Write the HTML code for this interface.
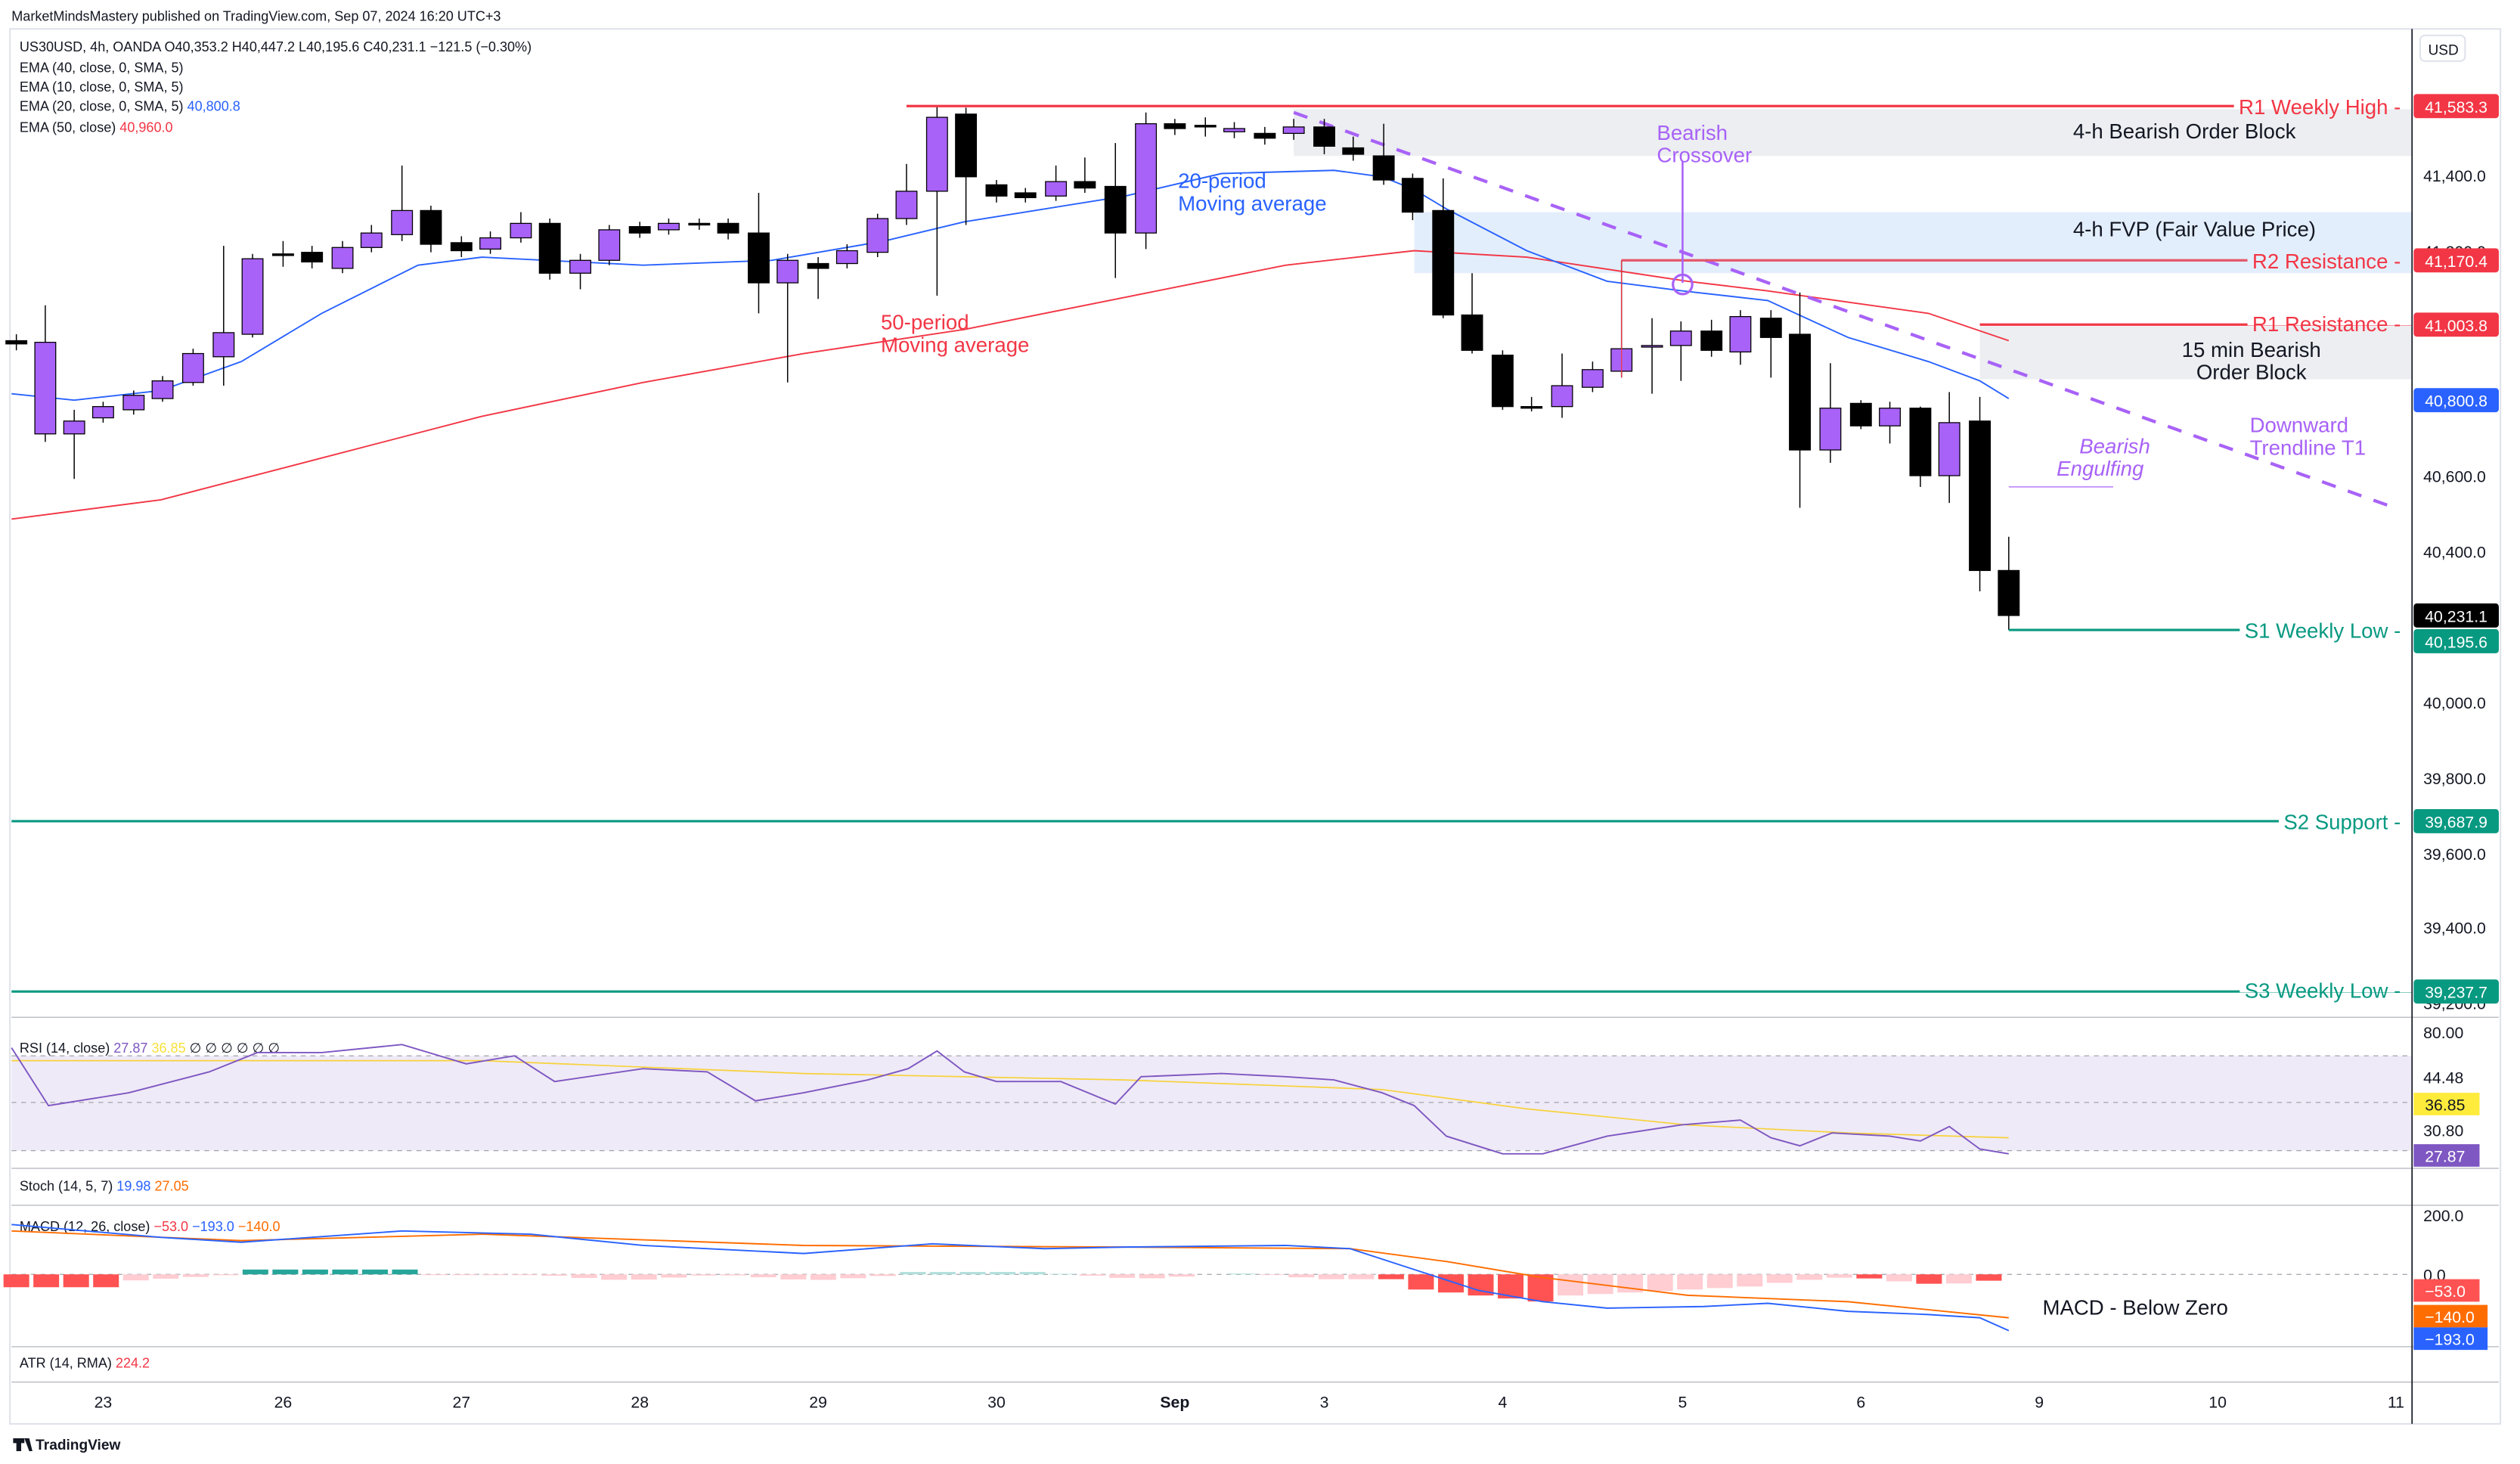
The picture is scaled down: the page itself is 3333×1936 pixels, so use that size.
<!DOCTYPE html>
<html><head><meta charset="utf-8"><style>
html,body{margin:0;padding:0;background:#fff;}
svg{display:block;font-family:"Liberation Sans",sans-serif;}
</style></head><body>
<svg id="s" width="3333" height="1936" viewBox="0 0 1568 911" xmlns="http://www.w3.org/2000/svg">
<rect width="1568" height="911" fill="#fff"/>
<text x="7" y="13" font-size="8.5" fill="#131722">MarketMindsMastery published on TradingView.com, Sep 07, 2024 16:20 UTC+3</text>
<rect x="6" y="18" width="1550" height="868" fill="none" stroke="#e0e3eb" stroke-width="1"/>
<!-- zones -->
<rect x="805" y="68" width="696" height="29" fill="#eceef1"/>
<rect x="880" y="132" width="621" height="38" fill="#e3eefc"/>
<rect x="1232" y="203" width="269" height="33" fill="#eceef1"/>
<g id="ema">
<polyline fill="none" stroke="#f23645" stroke-width="0.9" points="7,323 100,311 200,285 300,259 400,238 500,220 600,205 700,185 800,165 880,156 950,160 1050,175 1100,181 1150,188 1200,195 1250,212"/>
<polyline fill="none" stroke="#2962ff" stroke-width="0.9" points="7,245 46,249 100,243 150,225 200,195 260,165 300,160 400,165 480,162 550,150 600,138 650,130 700,122 760,108 830,106 860,110 880,118 900,130 950,156 1000,175 1047,181 1100,187 1150,210 1200,225 1232,237 1250,248"/>
</g>
<line x1="805" y1="70" x2="1493" y2="317" stroke="#a862f7" stroke-width="2" stroke-dasharray="9,8"/>
<g id="c"></g>
<!-- levels -->
<line x1="564" y1="66" x2="1501" y2="66" stroke="#f23645" stroke-width="1.5"/>
<line x1="1009" y1="162" x2="1501" y2="162" stroke="#e5566a" stroke-width="1.5"/>
<line x1="1009" y1="162" x2="1009" y2="235" stroke="#f23645" stroke-width="0.6"/>
<line x1="1232" y1="202" x2="1501" y2="202" stroke="#f23645" stroke-width="1.5"/>
<line x1="1250" y1="392" x2="1501" y2="392" stroke="#089981" stroke-width="1.5"/>
<line x1="7" y1="511" x2="1501" y2="511" stroke="#089981" stroke-width="1.5"/>
<line x1="7" y1="617" x2="1501" y2="617" stroke="#089981" stroke-width="1.5"/>
<line x1="1250" y1="303" x2="1315" y2="303" stroke="#a862f7" stroke-width="0.6"/>
<line x1="1047" y1="100" x2="1047" y2="176" stroke="#a862f7" stroke-width="1.2"/>
<circle cx="1047" cy="177" r="6" fill="none" stroke="#a862f7" stroke-width="1.5"/>
<g id="lbl" font-size="13">
<text x="1494" y="71" text-anchor="end" fill="#f23645" data-bg="#ffffff">R1 Weekly High -</text>
<text x="1494" y="167" text-anchor="end" fill="#f23645" data-bg="#e3eefc">R2 Resistance -</text>
<text x="1494" y="206" text-anchor="end" fill="#f23645" data-bg="#ffffff">R1 Resistance -</text>
<text x="1494" y="397" text-anchor="end" fill="#089981" data-bg="#ffffff">S1 Weekly Low -</text>
<text x="1494" y="516" text-anchor="end" fill="#089981" data-bg="#ffffff">S2 Support -</text>
<text x="1494" y="621" text-anchor="end" fill="#089981" data-bg="#ffffff">S3 Weekly Low -</text>
</g>
<g font-size="13">
<text x="1290" y="86" fill="#131722">4-h Bearish Order Block</text>
<text x="1290" y="147" fill="#131722">4-h FVP (Fair Value Price)</text>
<text x="1401" y="222" text-anchor="middle" fill="#131722">15 min Bearish</text>
<text x="1401" y="236" text-anchor="middle" fill="#131722">Order Block</text>
<text x="1031" y="87" fill="#a862f7">Bearish</text>
<text x="1031" y="101" fill="#a862f7">Crossover</text>
<text x="733" y="117" fill="#2962ff">20-period</text>
<text x="733" y="131" fill="#2962ff">Moving average</text>
<text x="548" y="205" fill="#f23645">50-period</text>
<text x="548" y="219" fill="#f23645">Moving average</text>
<text x="1338" y="282" text-anchor="end" font-style="italic" fill="#a862f7">Bearish</text>
<text x="1334" y="296" text-anchor="end" font-style="italic" fill="#a862f7">Engulfing</text>
<text x="1400" y="269" fill="#a862f7">Downward</text>
<text x="1400" y="283" fill="#a862f7">Trendline T1</text>
<text x="1253" y="706" fill="#131722">RSI - Oversold</text>
<text x="1271" y="818" fill="#131722">MACD - Below Zero</text>
</g>
<!-- legend -->
<g font-size="8.5" fill="#131722">
<text x="12" y="32">US30USD, 4h, OANDA  O40,353.2  H40,447.2  L40,195.6  C40,231.1  −121.5 (−0.30%)</text>
<text x="12" y="45">EMA (40, close, 0, SMA, 5)</text>
<text x="12" y="57">EMA (10, close, 0, SMA, 5)</text>
<text x="12" y="69">EMA (20, close, 0, SMA, 5) <tspan fill="#2962ff">40,800.8</tspan></text>
<text x="12" y="82">EMA (50, close) <tspan fill="#f23645">40,960.0</tspan></text>
<text x="12" y="655">RSI (14, close) <tspan fill="#7e57c2">27.87</tspan> <tspan fill="#f7e13a">36.85</tspan> ∅ ∅ ∅ ∅ ∅ ∅</text>
<text x="12" y="741">Stoch (14, 5, 7) <tspan fill="#2962ff">19.98</tspan> <tspan fill="#ff6d00">27.05</tspan></text>
<text x="12" y="766">MACD (12, 26, close) <tspan fill="#f23645">−53.0</tspan> <tspan fill="#2962ff">−193.0</tspan> <tspan fill="#ff6d00">−140.0</tspan></text>
<text x="12" y="851">ATR (14, RMA) <tspan fill="#f23645">224.2</tspan></text>
</g>
<!-- pane separators -->
<g stroke="#b2b5be" stroke-width="0.6">
<line x1="7" y1="633" x2="1555" y2="633"/>
<line x1="7" y1="727" x2="1555" y2="727"/>
<line x1="7" y1="750" x2="1555" y2="750"/>
<line x1="7" y1="838" x2="1555" y2="838"/>
<line x1="7" y1="860" x2="1555" y2="860"/>
</g>
<!-- RSI -->
<rect x="7" y="657" width="1494" height="59" fill="#efeaf7"/>
<g stroke="#a0a3ab" stroke-width="0.6" stroke-dasharray="3,3">
<line x1="7" y1="657" x2="1501" y2="657"/><line x1="7" y1="686" x2="1501" y2="686"/><line x1="7" y1="716" x2="1501" y2="716"/>
<line x1="7" y1="793" x2="1501" y2="793"/>
</g>
<polyline fill="none" stroke="#f7d23a" stroke-width="0.8" points="7,660 300,660 500,668 700,672 860,678 950,690 1050,700 1150,705 1250,708"/>
<polyline fill="none" stroke="#7e57c2" stroke-width="0.9" points="7,652 30,688 80,680 130,667 160,655 200,655 250,650 290,662 320,657 345,673 400,665 440,667 470,685 500,680 540,672 565,665 583,654 600,667 620,673 660,673 694,687 710,670 760,668 800,670 830,672 860,680 880,688 900,707 935,718 960,718 1000,707 1046,700 1083,697 1102,708 1120,713 1140,705 1176,707 1195,710 1213,701 1232,715 1250,718"/>
<!-- MACD -->
<g id="h"></g>
<polyline fill="none" stroke="#ff6d00" stroke-width="0.9" points="7,766 150,772 300,768 500,775 700,776 840,777 900,785 960,795 1050,806 1150,810 1250,820"/>
<polyline fill="none" stroke="#2962ff" stroke-width="0.9" points="7,762 100,770 150,773 250,766 330,768 400,775 500,780 580,774 650,777 700,776 800,775 840,777 880,790 920,803 960,810 1000,814 1060,813 1100,811 1150,816 1200,818 1232,820 1250,828"/>
<!-- axis -->
<line x1="1501" y1="18" x2="1501" y2="886" stroke="#131722" stroke-width="0.8"/>
<rect x="1506" y="22" width="28" height="16" rx="3" fill="#fff" stroke="#e0e3eb"/>
<text x="1511" y="34" font-size="9" fill="#131722">USD</text>
<g font-size="10" fill="#131722">
<text x="1508" y="113">41,400.0</text><text x="1508" y="160">41,200.0</text>
<text x="1508" y="300">40,600.0</text><text x="1508" y="347">40,400.0</text>
<text x="1508" y="441">40,000.0</text><text x="1508" y="488">39,800.0</text>
<text x="1508" y="535">39,600.0</text><text x="1508" y="581">39,400.0</text><text x="1508" y="628">39,200.0</text>
<text x="1508" y="646">80.00</text><text x="1508" y="674">44.48</text><text x="1508" y="707">30.80</text>
<text x="1508" y="760">200.0</text><text x="1508" y="797">0.0</text>
</g>
<g id="b" font-size="10" fill="#fff"></g>
<!-- time axis -->
<g font-size="10" fill="#131722" text-anchor="middle">
<text x="64" y="876">23</text><text x="176" y="876">26</text><text x="287" y="876">27</text><text x="398" y="876">28</text><text x="509" y="876">29</text><text x="620" y="876">30</text><text x="731" y="876" font-weight="bold">Sep</text><text x="824" y="876">3</text><text x="935" y="876">4</text><text x="1047" y="876">5</text><text x="1158" y="876">6</text><text x="1269" y="876">9</text><text x="1380" y="876">10</text><text x="1491" y="876">11</text>
</g>
<text x="22" y="902" font-size="9" fill="#131722" font-weight="bold">TradingView</text>
<path d="M8 895h7v3h-2v5h-3v-5h-2zM15 895l3 0l2 8h-2z" fill="#131722"/>
</svg>
<script>
var NS="http://www.w3.org/2000/svg";
function el(p,t,a){var e=document.createElementNS(NS,t);for(var k in a)e.setAttribute(k,a[k]);p.appendChild(e);return e;}
var C=[[10,212,214,208,218],[28,270,213,190,275],[46,270,262,255,298],[64,260,253,250,263],[83,255,246,243,258],[101,248,237,234,250],[120,238,220,217,240],[139,222,207,153,240],[157,208,161,158,210],[176,158,158,150,166],[194,157,163,153,167],[213,167,154,150,170],[231,154,145,140,157],[250,146,131,103,150],[268,131,152,128,157],[287,151,156,147,160],[305,155,148,144,158],[324,148,139,132,151],[342,139,170,136,174],[361,170,162,158,180],[379,162,143,140,165],[398,141,145,138,148],[416,143,139,136,146],[435,139,140,136,143],[453,139,145,136,149],[472,145,176,120,195],[490,176,162,158,238],[509,164,167,160,186],[527,164,156,152,167],[546,157,136,133,160],[564,136,119,102,140],[583,119,73,66,184],[601,71,110,67,140],[620,115,122,112,126],[638,120,123,117,126],[657,122,113,103,125],[675,113,117,98,120],[694,116,145,89,173],[713,145,77,70,155],[731,77,80,74,84],[750,78,78,73,85],[768,82,80,76,86],[787,83,86,79,90],[805,83,79,74,87],[824,79,91,74,96],[842,92,96,85,100],[861,97,112,77,115],[879,111,132,108,137],[898,131,196,111,198],[916,196,218,170,220],[935,221,253,218,255],[953,253,253,247,256],[972,253,240,220,260],[991,241,230,225,244],[1009,231,217,162,235],[1028,216,215,198,245],[1046,215,206,200,237],[1065,206,218,199,222],[1083,219,197,193,227],[1102,198,210,193,235],[1120,208,280,182,316],[1139,280,254,226,288],[1158,251,265,249,267],[1176,265,254,250,276],[1195,254,296,253,303],[1213,296,263,244,313],[1232,262,355,247,368],[1250,355,383,334,392]];
var g=document.getElementById("c");
C.forEach(function(c){var x=c[0],o=c[1],cl=c[2],up=cl<o,t=Math.min(o,cl),b=Math.max(o,cl);
el(g,"line",{x1:x,x2:x,y1:c[3],y2:c[4],stroke:"#000","stroke-width":0.7});
el(g,"rect",{x:x-6.5,y:t,width:13,height:Math.max(b-t,1),fill:up?"#a862f7":"#000",stroke:"#000","stroke-width":0.6});});
// label backgrounds
var lg=document.getElementById("lbl");
Array.prototype.slice.call(lg.querySelectorAll("text")).forEach(function(t){
 try{var bb=t.getBBox();var r=document.createElementNS(NS,"rect");
 r.setAttribute("x",bb.x-3);r.setAttribute("y",parseFloat(t.getAttribute("y"))-9);r.setAttribute("width",bb.width+10);r.setAttribute("height",9);r.setAttribute("fill",t.getAttribute("data-bg"));
 r.setAttribute("y",parseFloat(t.getAttribute("y"))-6.5);r.setAttribute("height",3);
 lg.insertBefore(r,t);}catch(e){}
});
var B=[[66,"41,583.3","#f23645"],[162,"41,170.4","#f23645"],[202,"41,003.8","#f23645"],[249,"40,800.8","#2962ff"],[383,"40,231.1","#000"],[399,"40,195.6","#089981"],[511,"39,687.9","#089981"],[617,"39,237.7","#089981"]];
var bg=document.getElementById("b");
B.forEach(function(b){el(bg,"rect",{x:1502,y:b[0]-7.5,width:53,height:15,rx:2,fill:b[2]});var t=el(bg,"text",{x:1509,y:b[0]+4});t.textContent=b[1];});
var B2=[[687,"36.85","#ffeb3b","#131722",41],[719,"27.87","#7e57c2","#fff",41],[803,"−53.0","#ff5252","#fff",41],[819,"−140.0","#ff6d00","#fff",46],[833,"−193.0","#2962ff","#fff",46]];
B2.forEach(function(b){el(bg,"rect",{x:1502,y:b[0]-7,width:b[4],height:14,fill:b[2]});var t=el(bg,"text",{x:1509,y:b[0]+4,fill:b[3]});t.textContent=b[1];});
// histogram
var h=document.getElementById("h");
for(var i=0;i<67;i++){var x=10+i*18.6,v;
if(x<80)v=8;else if(x<150)v=4-((x-80)/70)*4;else if(x<270)v=-3;else if(x<330)v=0.5;else if(x<560)v=2+Math.sin(i)*1.5;else if(x<660)v=-1.5;else if(x<820)v=1+Math.cos(i)*1.5;else if(x<870)v=3;else if(x<960)v=8+(x-870)/10;else if(x<1100)v=14-(x-960)/20;else if(x<1240)v=4+Math.sin(i)*2;else v=10;
var col=v>0?(x>=860&&x<960||x<80||(x>1150&&i%2==0)||x>1240?"#ff5252":"#ffcdd2"):"#26a69a";if(v<0&&x>540)col="#b2dfdb";
el(h,"rect",{x:x-8,y:v>0?793:793+v,width:16,height:Math.abs(v),fill:col});}
</script>
</body></html>
